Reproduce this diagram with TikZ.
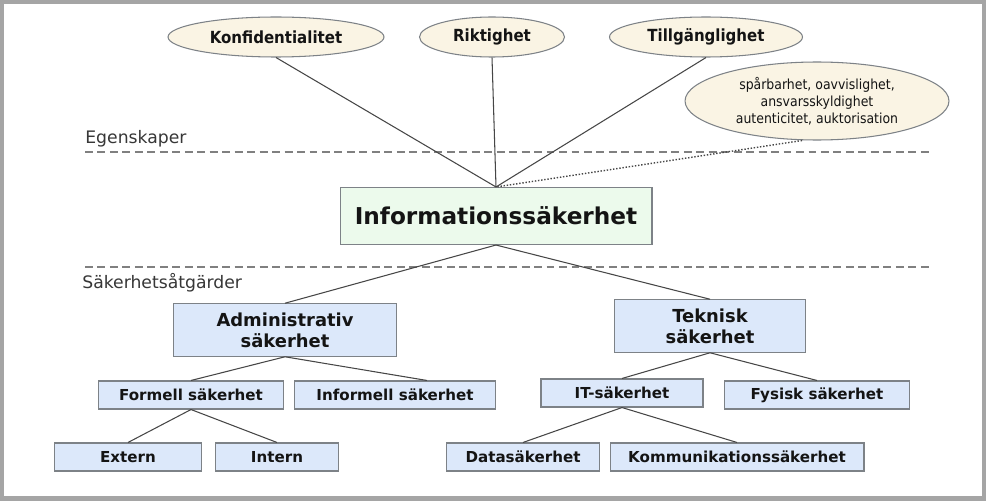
\documentclass[tikz,border=0pt]{standalone}
\usepackage{fontspec}
\setmainfont{DejaVu Sans}
\newfontfamily\condfont{DejaVu Sans Condensed}
\usetikzlibrary{shapes.geometric, positioning}
\definecolor{inkdark}{RGB}{20,20,20}
\definecolor{linegray}{RGB}{70,70,70}
\definecolor{edgegray}{RGB}{125,130,135}
\definecolor{framegray}{RGB}{165,165,165}
\definecolor{fillblue}{RGB}{220,232,250}
\definecolor{fillgreen}{RGB}{236,250,236}
\definecolor{fillcream}{RGB}{250,244,228}
\tikzset{
  propell/.style={ellipse, draw=edgegray, fill=fillcream, inner sep=0pt,
    minimum height=0.8cm, font=\condfont\bfseries\fontsize{9.5}{11}\selectfont,
    text=inkdark, line width=0.6pt},
  noteell/.style={ellipse, draw=edgegray, fill=fillcream, inner sep=0pt,
    minimum width=5.28cm, minimum height=1.56cm, align=center,
    font=\condfont\fontsize{7.9}{9.6}\selectfont, text=inkdark, line width=0.6pt},
  mainbox/.style={rectangle, draw=edgegray, fill=fillgreen, inner sep=0pt,
    minimum width=6.24cm, minimum height=1.14cm,
    font=\bfseries\fontsize{13.2}{15}\selectfont, text=inkdark, line width=0.6pt},
  secbox/.style={rectangle, draw=edgegray, fill=fillblue, inner sep=0pt,
    align=center, minimum height=1.05cm,
    font=\bfseries\fontsize{10.2}{12}\selectfont, text=inkdark, line width=0.6pt},
  subbox/.style={rectangle, draw=edgegray, fill=fillblue, inner sep=0pt,
    minimum height=0.56cm, font=\bfseries\fontsize{8.6}{10}\selectfont,
    text=inkdark, line width=0.6pt},
  levellabel/.style={inner sep=0pt, font=\fontsize{9.8}{12}\selectfont, text=inkdark!85},
  link/.style={draw=linegray, line width=0.6pt},
  dotlink/.style={draw=linegray, line width=0.8pt, densely dotted},
  divider/.style={draw=gray, line width=1pt, dash pattern=on 4.5pt off 2.6pt}
}
\begin{document}
\begin{tikzpicture}[x=0.02cm, y=-0.02cm]
  \useasboundingbox (0,0) rectangle (986,500);
  \fill[white] (0,0) rectangle (986,500);
  \draw[framegray, line width=3pt] (1.5,1.5) rectangle (984.5,498.5);
  % Egenskaper
  \node[propell, minimum width=4.32cm] (konf) at (276,37) {Konfidentialitet};
  \node[propell, minimum width=2.9cm] (rikt) at (492,37) {Riktighet};
  \node[propell, minimum width=3.86cm] (tillg) at (706,37) {Tillgänglighet};
  \node[noteell] (note) at (817,101) {spårbarhet, oavvislighet,\\ansvarsskyldighet\\autenticitet, auktorisation};
  % Levels
  \draw[divider] (85,152) -- (930,152);
  \draw[divider] (85,267) -- (930,267);
  \node[levellabel, anchor=south west] (egen) at (85,147) {Egenskaper};
  \node[levellabel, anchor=north west] (atg) at (82,273) {Säkerhetsåtgärder};
  % Main box
  \node[mainbox] (infosak) at (496,216) {Informationssäkerhet};
  % Åtgärder
  \node[secbox, minimum width=4.46cm] (admin) at (285,330) {Administrativ\\säkerhet};
  \node[secbox, minimum width=3.82cm] (tekn) at (710,326) {Teknisk\\säkerhet};
  \node[subbox, minimum width=3.7cm] (formell) at (191,395) {Formell säkerhet};
  \node[subbox, minimum width=4.02cm] (informell) at (395,395) {Informell säkerhet};
  \node[subbox, minimum width=2.94cm] (extern) at (128,457) {Extern};
  \node[subbox, minimum width=2.46cm] (intern) at (277,457) {Intern};
  \node[subbox, minimum width=3.24cm] (itsak) at (622,393) {IT-säkerhet};
  \node[subbox, minimum width=3.7cm] (fysisk) at (817,395) {Fysisk säkerhet};
  \node[subbox, minimum width=3.06cm] (datasak) at (523,457) {Datasäkerhet};
  \node[subbox, minimum width=5.08cm] (kommsak) at (737,457) {Kommunikationssäkerhet};
  % Connectors
  \draw[link] (konf.south) -- (infosak.north);
  \draw[link] (rikt.south) -- (infosak.north);
  \draw[link] (tillg.south) -- (infosak.north);
  \draw[dotlink] ([xshift=-0.3cm]note.south) -- (infosak.north);
  \draw[link] (infosak.south) -- (admin.north);
  \draw[link] (infosak.south) -- (tekn.north);
  \draw[link] (admin.south) -- (formell.north);
  \draw[link] (admin.south) -- ([xshift=0.64cm]informell.north);
  \draw[link] (formell.south) -- (extern.north);
  \draw[link] (formell.south) -- (intern.north);
  \draw[link] (tekn.south) -- (itsak.north);
  \draw[link] (tekn.south) -- (fysisk.north);
  \draw[link] (itsak.south) -- (datasak.north);
  \draw[link] (itsak.south) -- (kommsak.north);
\end{tikzpicture}
\end{document}
